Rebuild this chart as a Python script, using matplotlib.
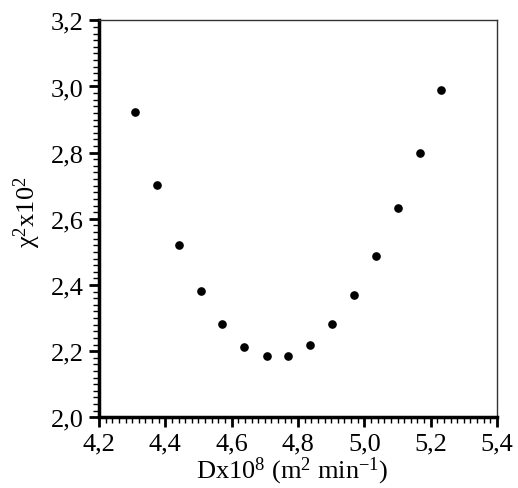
import matplotlib
matplotlib.use("Agg")
import matplotlib.pyplot as plt
from matplotlib.ticker import MultipleLocator, FuncFormatter

plt.rcParams['font.family'] = ['Liberation Serif', 'DejaVu Serif']
plt.rcParams['mathtext.fontset'] = 'custom'
plt.rcParams['mathtext.rm'] = 'Liberation Serif'
plt.rcParams['mathtext.it'] = 'Liberation Serif:italic'

dx = [4.31, 4.374, 4.440, 4.507, 4.572, 4.638, 4.706, 4.770, 4.836,
      4.903, 4.970, 5.034, 5.101, 5.168, 5.232]
chi2 = [2.924, 2.703, 2.521, 2.382, 2.281, 2.213, 2.184, 2.184, 2.219,
        2.281, 2.371, 2.489, 2.634, 2.799, 2.989]

fig = plt.figure(figsize=(5.18, 4.89), dpi=100)
ax = fig.add_axes([0.1911, 0.1446, 0.7684, 0.8118])
ax.plot(dx, chi2, 'o', color='black', markersize=5.2)

ax.set_xlim(4.2, 5.4)
ax.set_ylim(2.0, 3.2)
ax.xaxis.set_major_locator(MultipleLocator(0.2))
ax.yaxis.set_major_locator(MultipleLocator(0.2))
ax.xaxis.set_minor_locator(MultipleLocator(0.02))
ax.yaxis.set_minor_locator(MultipleLocator(0.02))
fmt = FuncFormatter(lambda v, p: f"{v:.1f}".replace('.', ','))
ax.xaxis.set_major_formatter(fmt)
ax.yaxis.set_major_formatter(fmt)

ax.tick_params(which='major', direction='out', length=7, width=2.0,
               labelsize=19, color='black', pad=4)
ax.tick_params(which='minor', direction='out', length=4, width=1.0, color='black')
ax.tick_params(top=False, right=False, which='both')

for s in ['left', 'bottom']:
    ax.spines[s].set_linewidth(2.5)
    ax.spines[s].set_color('black')
for s in ['top', 'right']:
    ax.spines[s].set_linewidth(1.0)
    ax.spines[s].set_color('#333333')

ax.set_xlabel(r'Dx10$^{8}$ (m$^{2}$ min$^{-1}$)', fontsize=19)
ax.set_ylabel(r'χ$^{2}$x10$^{2}$', fontsize=19)
ax.xaxis.set_label_coords(0.485, -0.093)
ax.yaxis.set_label_coords(-0.14, 0.52)

fig.savefig('out.png', dpi=100)
